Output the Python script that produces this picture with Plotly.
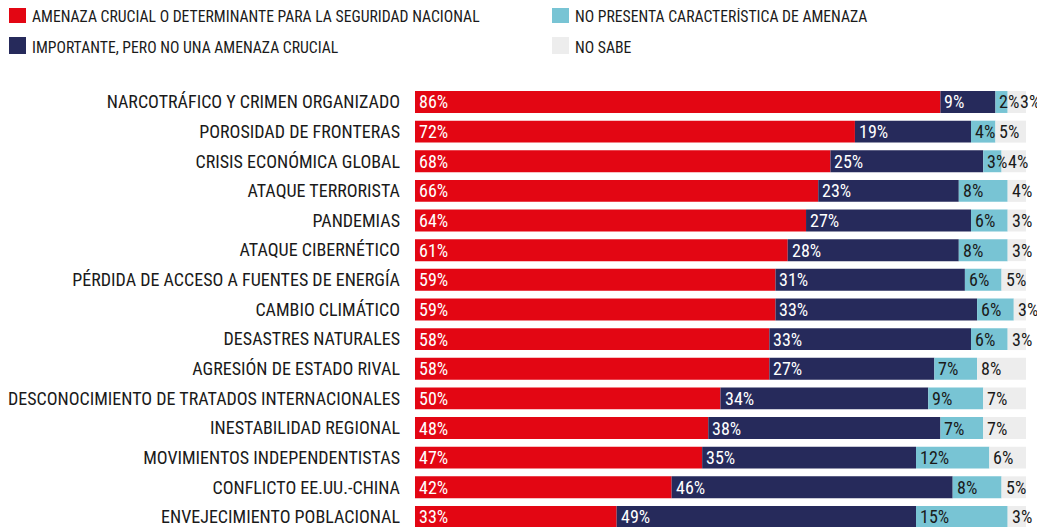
import plotly.graph_objects as go

categorias = [
    "NARCOTRÁFICO Y CRIMEN ORGANIZADO",
    "POROSIDAD DE FRONTERAS",
    "CRISIS ECONÓMICA GLOBAL",
    "ATAQUE TERRORISTA",
    "PANDEMIAS",
    "ATAQUE CIBERNÉTICO",
    "PÉRDIDA DE ACCESO A FUENTES DE ENERGÍA",
    "CAMBIO CLIMÁTICO",
    "DESASTRES NATURALES",
    "AGRESIÓN DE ESTADO RIVAL",
    "DESCONOCIMIENTO DE TRATADOS INTERNACIONALES",
    "INESTABILIDAD REGIONAL",
    "MOVIMIENTOS INDEPENDENTISTAS",
    "CONFLICTO EE.UU.-CHINA",
    "ENVEJECIMIENTO POBLACIONAL",
]

crucial = [86, 72, 68, 66, 64, 61, 59, 59, 58, 58, 50, 48, 47, 42, 33]
importante = [9, 19, 25, 23, 27, 28, 31, 33, 33, 27, 34, 38, 35, 46, 49]
no_presenta = [2, 4, 3, 8, 6, 8, 6, 6, 6, 7, 9, 7, 12, 8, 15]
no_sabe = [3, 5, 4, 4, 3, 3, 5, 3, 3, 8, 7, 7, 6, 5, 3]

series = [
    ("AMENAZA CRUCIAL O DETERMINANTE PARA LA SEGURIDAD NACIONAL", crucial, "#E30613", "white"),
    ("IMPORTANTE, PERO NO UNA AMENAZA CRUCIAL", importante, "#262A5B", "white"),
    ("NO PRESENTA CARACTERÍSTICA DE AMENAZA", no_presenta, "#78C4D4", "#1a1a1a"),
    ("NO SABE", no_sabe, "#EDEDED", "#1a1a1a"),
]

FONT = "Roboto Condensed, Liberation Sans Narrow, sans-serif"
TXT = "#1a1a1a"
TAM = 18

# geometria (la pagina tiene 8px de margen en el body)
W, H = 1037, 519
L, R, T, B = 407, 19, 72, 0
PW = W - L - R           # ancho del area de trazado
PH = H - T - B
PX_POR_PUNTO = PW / 100.0

def paper_x(px):
    return (px - L) / PW

def paper_y(py):
    return (H - B - py) / PH

fig = go.Figure()
base = [0] * len(categorias)
fin_etiqueta = [-1e9] * len(categorias)   # para que las etiquetas no se pisen
anotaciones = []
for nombre, vals, color, tcolor in series:
    fig.add_trace(go.Bar(
        y=categorias, x=vals, base=base, orientation="h", name=nombre,
        marker=dict(color=color, line=dict(width=0)), width=0.74,
        hoverinfo="skip", showlegend=False,
    ))
    for i, v in enumerate(vals):
        texto = f"{v}%"
        ancho = (8.9 * (len(texto) - 1) + 11.8) / PX_POR_PUNTO
        x0 = max(base[i] + 2 / PX_POR_PUNTO, fin_etiqueta[i])
        fin_etiqueta[i] = x0 + ancho
        anotaciones.append(dict(
            x=x0, y=categorias[i], xref="x", yref="y", text=texto,
            showarrow=False, xanchor="left", yanchor="middle",
            font=dict(color=tcolor, size=TAM, family=FONT),
        ))
    base = [b + v for b, v in zip(base, vals)]

# leyenda manual en dos columnas
formas = []
leyenda = [(0, 0), (0, 1), (1, 0), (1, 1)]   # (columna, fila) de cada serie
col_x = [1, 544]
fila_y = [-2, 29]
for (nombre, vals, color, tcolor), (c, f) in zip(series, leyenda):
    x0 = col_x[c]
    y0 = fila_y[f]
    formas.append(dict(type="rect", xref="paper", yref="paper",
                       x0=paper_x(x0), x1=paper_x(x0 + 17),
                       y0=paper_y(y0 + 17), y1=paper_y(y0),
                       fillcolor=color, line=dict(width=0)))
    anotaciones.append(dict(
        x=paper_x(x0 + 21), y=paper_y(y0 + 10), xref="paper", yref="paper",
        text=nombre, showarrow=False, xanchor="left", yanchor="middle",
        font=dict(color=TXT, size=15.7, family=FONT),
    ))

fig.update_layout(
    barmode="overlay",
    width=W, height=H,
    margin=dict(l=L, r=R, t=T, b=B, autoexpand=False),
    plot_bgcolor="white", paper_bgcolor="white",
    font=dict(family=FONT, size=TAM, color=TXT),
    xaxis=dict(range=[0, 100], visible=False, fixedrange=True),
    yaxis=dict(categoryorder="array", categoryarray=categorias,
               range=[14.34, -0.742], showgrid=False, zeroline=False,
               showline=False, ticks="", ticklabelstandoff=14, automargin=False,
               tickfont=dict(size=TAM, family=FONT, color=TXT)),
    annotations=anotaciones,
    shapes=formas,
    showlegend=False,
)

fig.write_html("out.html")
